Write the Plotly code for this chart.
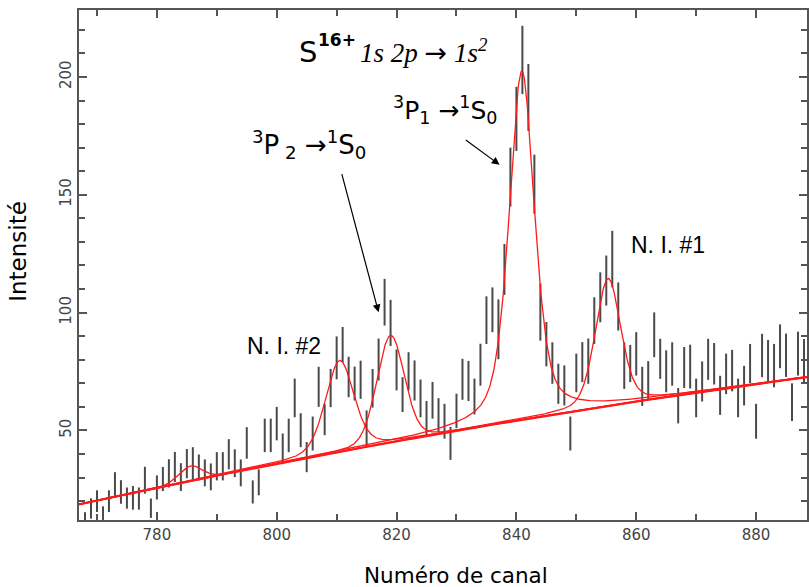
import numpy as np
import plotly.graph_objects as go

# ---- measured spectrum (channel, counts, statistical error) ----
channels = list(range(768, 889))
counts = [
    11.8, 16.9, 20.0, 14.0, 20.0, 27.0, 23.9, 21.3, 21.4, 21.1,   # 768-777
    28.9, 17.0, 25.8, 29.4, 31.8, 34.5, 30.2, 35.9, 36.0, 34.3,   # 778-787
    32.0, 30.3, 34.8, 34.8, 39.9, 36.1, 32.0, 44.7, 23.9, 28.0,   # 788-797
    47.9, 47.9, 52.9, 42.2, 47.9, 63.8, 50.1, 38.7, 48.7, 68.5,   # 798-807
    54.6, 68.0, 80.8, 86.4, 72.7, 69.9, 71.5, 50.7, 67.9, 80.1,   # 808-817
    104.4, 95.6, 75.7, 65.2, 75.1, 71.2, 63.6, 55.2, 62.8, 56.5,  # 818-827
    53.9, 44.5, 58.3, 71.7, 71.0, 64.4, 77.9, 96.8, 101.2, 92.9,  # 828-837
    118.3, 157.5, 182.2, 207.2, 191.3, 154.5, 100.2, 86.6, 78.6, 69.8,  # 838-847
    69.1, 48.7, 74.4, 79.0, 79.4, 96.6, 106.5, 113.6, 122.7, 102.6,  # 848-857
    77.5, 78.4, 82.5, 68.7, 71.4, 90.6, 80.4, 75.1, 78.2, 60.5,   # 858-867
    76.7, 77.1, 63.8, 70.8, 80.2, 78.3, 64.9, 74.0, 75.4, 63.8,   # 868-877
    69.0, 78.4, 53.9, 81.8, 79.6, 77.5, 85.7, 81.9, 62.0, 82.6,   # 878-887
    79.6,                                                          # 888
]
errors = [
    3.5, 4.3, 4.6, 3.8, 4.6, 5.3, 5.0, 4.5, 5.0, 4.7,
    5.7, 4.1, 5.1, 5.1, 6.0, 6.4, 5.9, 6.2, 6.9, 5.5,
    5.7, 5.7, 6.0, 6.0, 6.4, 5.9, 5.7, 6.7, 4.9, 5.5,
    7.1, 7.1, 7.1, 6.5, 7.1, 8.2, 7.2, 6.4, 7.2, 8.5,
    6.6, 8.1, 9.1, 7.5, 8.6, 7.2, 8.1, 7.8, 8.2, 8.9,
    9.9, 9.8, 8.7, 7.4, 8.1, 8.5, 8.0, 7.3, 7.8, 7.2,
    7.4, 7.0, 7.3, 8.7, 8.5, 7.6, 8.9, 10.1, 9.5, 12.7,
    10.8, 12.5, 13.6, 14.5, 14.2, 12.5, 12.1, 9.4, 8.8, 8.5,
    8.5, 7.2, 8.2, 8.5, 9.6, 9.9, 10.6, 10.6, 12.0, 10.2,
    9.9, 7.9, 9.2, 8.3, 8.0, 9.5, 8.5, 8.9, 9.2, 7.5,
    8.7, 9.3, 8.2, 8.5, 8.7, 8.8, 8.3, 8.6, 8.8, 8.2,
    8.4, 8.3, 7.4, 9.2, 8.8, 9.2, 9.3, 9.2, 8.0, 9.3,
    9.2,
]

# ---- fit parameters ----
bg_channels = [767.0, 828.0, 888.5]
bg_values = [18.6, 49.0, 72.6]
peak_centers = [785.6, 810.5, 819.0, 840.9, 855.3]
peak_amps = [6.3, 38.7, 45.4, 148.0, 54.0]
peak_fwhm = [4.5, 5.6, 5.4, 5.0, 5.0]
peak_eta = [0.0, 0.3, 0.15, 0.5, 0.3]

x_min, x_max = 767.0, 888.5
y_min, y_max = 12.0, 228.4

xf = np.linspace(x_min, x_max, 1200)
bg_coef = np.polyfit(bg_channels, bg_values, 2)
bg = np.polyval(bg_coef, xf)


def pvoigt(x, c, a, w, eta):
    g = np.exp(-4 * np.log(2) * (x - c) ** 2 / w ** 2)
    lo = 1.0 / (1.0 + ((x - c) / (w / 2)) ** 2)
    return a * (eta * lo + (1 - eta) * g)


RED = "#ff1a1a"
fig = go.Figure()

fig.add_trace(go.Scatter(
    x=channels, y=counts, mode="markers",
    marker=dict(size=0, color="rgba(0,0,0,0)"),
    error_y=dict(type="data", array=errors, visible=True,
                 thickness=2, width=0, color="#4a4a4a"),
    showlegend=False, hoverinfo="skip"))

fig.add_trace(go.Scatter(x=xf, y=bg, mode="lines",
                         line=dict(color=RED, width=2.2), showlegend=False))
for c, a, w, e in zip(peak_centers, peak_amps, peak_fwhm, peak_eta):
    fig.add_trace(go.Scatter(x=xf, y=bg + pvoigt(xf, c, a, w, e), mode="lines",
                             line=dict(color=RED, width=1.3), showlegend=False))

SANS = "DejaVu Sans"
ann = []
ann.append(dict(x=803.4, y=210.5, xref="x", yref="y", xanchor="left", yanchor="middle",
                text="S", showarrow=False,
                font=dict(family=SANS, size=29, color="black")))
ann.append(dict(x=806.5, y=215.5, xref="x", yref="y", xanchor="left", yanchor="middle",
                text="<b>16+</b>", showarrow=False,
                font=dict(family=SANS, size=17, color="black")))
ann.append(dict(x=813.6, y=210.8, xref="x", yref="y", xanchor="left", yanchor="middle",
                text="<i>1s 2p</i> <span style=\"font-family:'DejaVu Sans'\">\u2192</span> <i>1s<sup>2</sup></i>",
                showarrow=False,
                font=dict(family="Liberation Serif", size=27, color="black")))
ann.append(dict(x=795.5, y=171.5, xref="x", yref="y", xanchor="left", yanchor="middle",
                text="<sup>3</sup>P<sub> 2</sub> \u2192<sup>1</sup>S<sub>0</sub>", showarrow=False,
                font=dict(family=SANS, size=26, color="black")))
ann.append(dict(x=819.0, y=186.0, xref="x", yref="y", xanchor="left", yanchor="middle",
                text="<sup>3</sup>P<sub>1</sub> \u2192<sup>1</sup>S<sub>0</sub>", showarrow=False,
                font=dict(family=SANS, size=25, color="black")))
ann.append(dict(x=794.7, y=86.0, xref="x", yref="y", xanchor="left", yanchor="middle",
                text="N. I. #2", showarrow=False,
                font=dict(family="Liberation Sans", size=23, color="black")))
ann.append(dict(x=858.8, y=128.5, xref="x", yref="y", xanchor="left", yanchor="middle",
                text="N. I. #1", showarrow=False,
                font=dict(family="Liberation Sans", size=23, color="black")))
# arrows
ann.append(dict(x=817.0, y=100.1, ax=810.8, ay=159.4, xref="x", yref="y",
                axref="x", ayref="y", text="", showarrow=True,
                arrowhead=2, arrowsize=1.3, arrowwidth=1.2, arrowcolor="black"))
ann.append(dict(x=837.2, y=162.7, ax=831.3, ay=173.7, xref="x", yref="y",
                axref="x", ayref="y", text="", showarrow=True,
                arrowhead=2, arrowsize=1.3, arrowwidth=1.2, arrowcolor="black"))
# axis titles
ann.append(dict(x=0.5185, y=-0.108, xref="paper", yref="paper", xanchor="center",
                yanchor="middle", text="Numéro de canal", showarrow=False,
                font=dict(family=SANS, size=21.5, color="black")))
ann.append(dict(x=-0.083, y=0.527, xref="paper", yref="paper", xanchor="center",
                yanchor="middle", text="Intensité", textangle=-90, showarrow=False,
                font=dict(family=SANS, size=23, color="black")))

AX = "#555555"
fig.update_layout(
    width=809, height=587,
    margin=dict(l=79, r=2, t=10, b=67, autoexpand=False),
    paper_bgcolor="white", plot_bgcolor="white",
    annotations=ann,
    xaxis=dict(range=[x_min, x_max], tick0=780, dtick=20, ticks="inside", ticklen=8,
               tickcolor=AX, tickwidth=1.5, showline=True, linecolor=AX, linewidth=1.5,
               mirror="allticks", showgrid=False, zeroline=False, automargin=False,
               tickfont=dict(family=SANS, size=15, color="#444444"),
               minor=dict(dtick=10, tick0=770, ticks="inside", ticklen=6,
                          tickcolor=AX, tickwidth=1.5, showgrid=False)),
    yaxis=dict(range=[y_min, y_max], tick0=0, dtick=50, ticks="inside", ticklen=8,
               tickcolor=AX, tickwidth=1.5, showline=True, linecolor=AX, linewidth=1.5,
               mirror="allticks", showgrid=False, zeroline=False, tickangle=-90,
               automargin=False,
               tickfont=dict(family=SANS, size=15, color="#444444"),
               minor=dict(dtick=10, tick0=0, ticks="inside", ticklen=6,
                          tickcolor=AX, tickwidth=1.5, showgrid=False)),
)

fig.write_html("out.html", config={"displayModeBar": False},
               post_script="document.body.style.margin='0';document.body.style.overflow='hidden';")
